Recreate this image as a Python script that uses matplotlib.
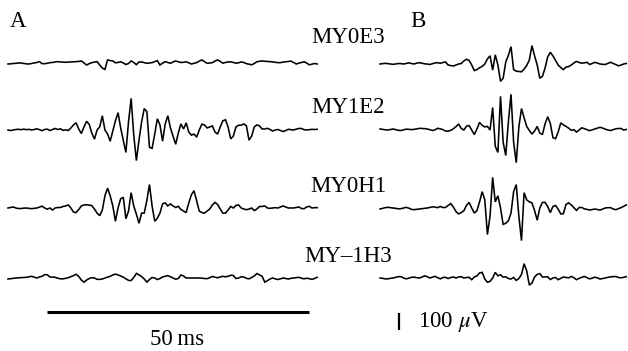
import numpy as np
import matplotlib.pyplot as plt

plt.rcParams['font.family'] = ['Liberation Serif', 'DejaVu Serif']
plt.rcParams['mathtext.fontset'] = 'stix'

# sampling interval of the recordings (ms)
dt = 0.5

labels = ['MY0E3', 'MY1E2', 'MY0H1', 'MY\u20131H3']

# panel A recordings (uV)
a_my0e3 = [0, 1, 3, 4, 6, 6, 3, 1, 0, 3, 6, 9, 14, 2, 2, 4, 8, 9, 12, 14,
           12, 11, 10, 11, 12, 13, 14, 15, 18, 6, -6, 2, 8, 11, 14, -6, -24, -32, 24, 20,
           18, 7, 9, 13, 6, -3, 3, 18, 9, -4, 12, 12, 8, 4, 6, 8, 14, 20, -6, 5,
           14, 9, 4, 12, 18, 13, 9, 10, 13, 7, 0, 4, 8, 17, 24, 14, 4, 6, 8, 17,
           24, 15, 5, 9, 12, 13, 9, 5, 7, 12, 9, 2, -1, -5, 3, 13, 16, 18, 16, 15,
           14, 12, 10, 8, 8, 11, 13, 15, 17, 9, 0, 5, 9, 13, 6, -5, -1, 3, 0]
a_my1e2 = [0, -3, 0, 3, 4, 2, 5, 2, 4, 0, 3, 7, 2, -4, 3, 5, -3, 3, 9, 3,
           7, -2, 1, -3, 12, 30, 42, 6, -21, 18, 51, 33, -18, -54, 0, 18, 84, 0, -24, -66,
           -6, 54, 102, 12, -60, -132, 48, 186, -30, -180, -60, 48, 126, 108, -102, -108, -24, 66, 30, -66,
           36, 84, 12, -36, -84, -18, 36, 6, 42, -12, -30, -24, -42, 0, 34, 30, 12, 18, 24, -12,
           -24, 18, 54, 60, 18, -52, -36, 18, 28, 28, 36, 24, -60, -36, 18, 30, 24, 6, 6, 10,
           3, -6, 0, 3, -3, -9, -3, 4, 2, 0, 5, 9, 9, 2, 0, 2, 4, 3, 4]
a_my0h1 = [0, 3, 6, 0, -3, -3, -1, 0, -2, -4, -2, 0, 5, 11, 0, -7, 0, -12, 0, 3,
           3, 9, 12, 18, 0, -24, -27, -9, 12, 18, 19, 17, 14, -6, -30, -45, -12, 72, 117, 72,
           12, -78, 0, 54, 63, -63, -18, 90, 12, -36, -90, -30, -30, 45, 138, 12, -78, -60, -30, 24,
           30, 12, 24, 12, 3, 10, -9, -18, -27, 30, 78, 102, 42, -18, -27, -30, -18, -6, 18, 33,
           21, -6, -30, -30, -12, 9, 0, 15, 18, 0, -6, -10, -6, 0, -15, -6, 9, 9, 12, 0,
           -2, 0, 2, 0, 6, 12, 6, 0, 0, 0, 3, 6, -3, -4, 6, 10, 0, 2, 2]
a_my_1h3 = [-6, -4, -2, 0, 1, 2, 3, 4, 7, 10, 5, 0, 6, 10, 20, 19, 6, 5, 4, -1,
            -5, -5, -2, 2, 8, 14, 22, 9, -12, -25, -12, -3, 2, 0, -8, -8, -6, 0, 5, 10,
            18, 23, 18, 12, 5, -5, -14, -15, 3, 27, 18, 9, -6, -24, -9, 3, 0, -9, -3, 6,
            10, 14, 7, 0, -7, -3, 18, 12, 0, 0, 0, 0, 0, 0, -1, -3, -4, 2, 9, 5,
            1, 6, 10, 7, 10, 16, 15, -3, 0, 7, 6, -2, -5, 3, 12, 26, 18, 10, -24, -16,
            -6, 0, -5, -9, -5, 0, -3, -6, -2, 0, 2, 4, -1, -5, -1, -4, -8, -3, 4]

# panel B recordings (uV)
b_my0e3 = [0, 2, 4, 2, 0, -2, 0, 3, 2, 0, 3, 7, 3, 0, 5, 8, 5, 1, 0, -3,
           2, 6, 8, 4, 9, 12, -6, -9, -12, -6, 0, 3, 18, 28, 21, -6, -39, -33, -22, -14,
           0, 30, 48, -36, 54, -6, -102, -84, 12, 51, 102, -33, -42, -44, -46, -30, -9, 24, 108, 48,
           -6, -84, -72, -24, 42, 69, 48, 21, -6, -21, -33, -18, -15, -6, 6, 15, 9, 5, 7, 10,
           -3, 3, 10, 5, 0, -2, -3, 4, 10, 3, -3, -11, -6, 0, 3]
b_my1e2 = [6, 4, 1, 0, 3, 6, 2, -2, -3, 1, 5, 4, 2, 4, 6, 10, 9, 8, 6, 2,
           -3, 1, 10, 7, 2, -6, -7, -2, 7, 20, 35, 9, 0, 22, 26, 0, -27, 6, 45, 27,
           18, 21, 0, 132, -96, -132, 198, -72, -150, 48, 210, -72, -192, 18, 126, 72, 21, -3, -24, -6,
           21, -18, -27, 36, 78, 39, -45, -51, -12, 42, 30, 21, 11, -2, 2, -12, 0, 13, 8, 2,
           -4, 1, 6, 11, 16, 11, 5, 0, -3, 2, 7, 9, 9, 0, 3]
b_my0h1 = [-6, -2, 2, 4, 2, 0, -2, -5, -4, 0, 4, -1, -8, -10, -8, -6, -4, -2, 0, 3,
           7, 5, 2, 9, 3, 3, 15, 26, 6, -21, -35, -27, -16, 15, 33, 0, -30, -15, 36, 96,
           48, -156, -48, 180, 36, 72, 0, -96, -90, -75, -30, 96, 138, -48, -192, 90, 48, 36, 30, -15,
           -72, 0, 33, 33, 9, -27, 9, 15, -7, -35, -33, 21, 30, 18, 2, -14, 3, 3, -5, -8,
           -12, -9, -6, -9, -12, -6, 0, 2, 2, -6, -10, -4, 2, 10, 18]
b_my_1h3 = [0, -2, -5, -5, -2, 0, 4, 8, 8, 0, -5, -1, 4, 5, 2, 0, 5, 13, 8, 0,
            5, 10, 2, -5, 3, 4, -3, 3, 6, 0, 6, 8, 0, 3, 4, -10, 6, 12, 30, 33,
            -6, -25, -20, 0, 33, 13, 19, 5, 7, -3, -6, 3, -14, -3, 21, 84, 42, -42, -30, 6,
            21, 26, 6, 6, 7, -9, 0, 3, -10, -2, 6, 3, 1, 9, 2, -10, -2, 4, 9, 2,
            -5, -1, 5, 0, -6, -3, 0, 4, 7, 8, 9, 3, 1, 4, 8]

panel_a = [a_my0e3, a_my1e2, a_my0h1, a_my_1h3]
panel_b = [b_my0e3, b_my1e2, b_my0h1, b_my_1h3]

# calibration bars
time_bar = 50   # ms
volt_bar = 100  # uV

# picture scale: one pixel in ms and in uV
ms_px = time_bar / 262
uv_px = volt_bar / 17


def pos(xp, yp):
    return xp * ms_px, -yp * uv_px


fig = plt.figure(figsize=(6.28, 3.51), dpi=100)
ax = fig.add_axes([0, 0, 1, 1])
ax.set_xlim(0, 628 * ms_px)
ax.set_ylim(-351 * uv_px, 0)
ax.axis('off')

rows = [64, 130, 208, 278]
label_base = [43, 113, 192, 262]
fs = 16.5

for k in range(4):
    for start, trace in [(8, panel_a[k]), (380, panel_b[k])]:
        sig = np.array(trace, dtype=float)
        t = np.arange(len(sig)) * dt
        x0, y0 = pos(start, rows[k])
        ax.plot(x0 + t, y0 + sig, color='black', lw=1.15, solid_joinstyle='miter')
    lx, ly = pos(348, label_base[k])
    ax.text(lx, ly, labels[k], ha='center', va='baseline', fontsize=fs)

# panel letters
ax.text(*pos(10, 27), 'A', ha='left', va='baseline', fontsize=fs)
ax.text(*pos(410, 27), 'B', ha='left', va='baseline', fontsize=fs)

# time calibration
bx, by = pos(47, 312)
ax.plot([bx, bx + time_bar], [by, by], color='black', lw=2.2, solid_capstyle='butt')
ax.text(*pos(177, 345), '50\u2009ms', ha='center', va='baseline', fontsize=fs)

# voltage calibration
vx, vy = pos(399, 313)
ax.plot([vx, vx], [vy, vy - volt_bar], color='black', lw=1.6, solid_capstyle='butt')
ax.text(*pos(418, 327), r'100 $\mu$V', ha='left', va='baseline', fontsize=fs)

fig.savefig('out.png', dpi=100)
